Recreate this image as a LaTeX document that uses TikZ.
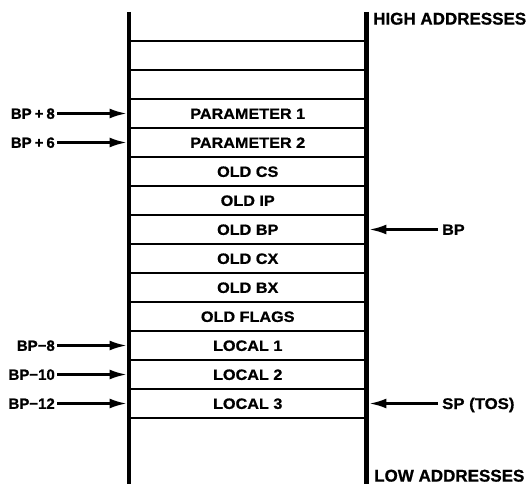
\documentclass[tikz,border=0pt]{standalone}
\usepackage{fontspec}
\setmainfont{Liberation Sans}[BoldFeatures={FakeBold=0.8}]
\newfontfamily\widefont{Liberation Sans}[FakeStretch=1.08,BoldFeatures={FakeBold=0.8}]
\usetikzlibrary{arrows.meta}
\begin{document}
\begin{tikzpicture}[x=1pt,y=-1pt,
  rail/.style={line width=4.2pt},
  sep/.style={line width=2.4pt},
  cell/.style={minimum width=237pt,minimum height=29pt,inner sep=0pt,
    font=\widefont\bfseries\fontsize{15}{16}\selectfont,text height=10.8pt,text depth=0pt},
  lbl/.style={inner sep=0pt,font=\bfseries\fontsize{15}{16}\selectfont,text height=10.7pt,text depth=0pt},
  rlbl/.style={inner sep=0pt,font=\widefont\bfseries\fontsize{15.5}{16}\selectfont,text height=11pt,text depth=0pt},
  big/.style={inner sep=0pt,font=\bfseries\fontsize{17}{18}\selectfont,text height=12.2pt,text depth=0pt},
  arr/.style={line width=2.4pt,-{Latex[length=17pt,width=10pt]}}]
\useasboundingbox[fill=white] (0,0) rectangle (532,484);
% rails
\coordinate (lt) at (129,12);
\coordinate (lb) at (129,484);
\coordinate (rt) at (366.5,12);
\coordinate (rb) at (366.5,484);
\draw[rail] (lt) -- (lb);
\draw[rail] (rt) -- (rb);
% separators
\foreach \i in {0,...,13}{
  \draw[sep] (129,41+29*\i) -- (366.5,41+29*\i);
}
% cells
\foreach \i/\t/\n in {0//e1,1//e2,2/PARAMETER 1/p1,3/PARAMETER 2/p2,4/OLD CS/ocs,5/OLD IP/oip,
  6/OLD BP/obp,7/OLD CX/ocx,8/OLD BX/obx,9/OLD FLAGS/ofl,10/LOCAL 1/l1,11/LOCAL 2/l2,12/LOCAL 3/l3}{
  \node[cell] (\n) at (247.75,55.5+29*\i) {\t};
}
% left labels
\node[lbl,anchor=east] (bp8) at (55,113.5) {BP\kern3pt+\kern3pt8};
\node[lbl,anchor=east] (bp6) at (55,142.5) {BP\kern3pt+\kern3pt6};
\node[lbl,anchor=east] (bm8) at (55,345.5) {BP−8};
\node[lbl,anchor=east] (bm10) at (55,374.5) {BP−10};
\node[lbl,anchor=east] (bm12) at (55,403.5) {BP−12};
\foreach \a/\b in {bp8/p1,bp6/p2,bm8/l1,bm10/l2,bm12/l3}{
  \draw[arr,shorten <=2pt,shorten >=2.5pt] (\a.east) -- (\b.west);
}
% right labels
\node[lbl,anchor=west] (bp) at (442,229.5) {\widefont BP};
\node[rlbl,anchor=west] (sp) at (442,403.5) {SP (TOS)};
\draw[arr,shorten <=4pt,shorten >=3pt] (bp.west) -- (obp.east);
\draw[arr,shorten <=4pt,shorten >=3pt] (sp.west) -- (l3.east);
% high / low
\node[big,anchor=west] (hi) at (373,18.5) {HIGH ADDRESSES};
\node[big,anchor=west] (lo) at (374,475.5) {LOW ADDRESSES};
\end{tikzpicture}
\end{document}
